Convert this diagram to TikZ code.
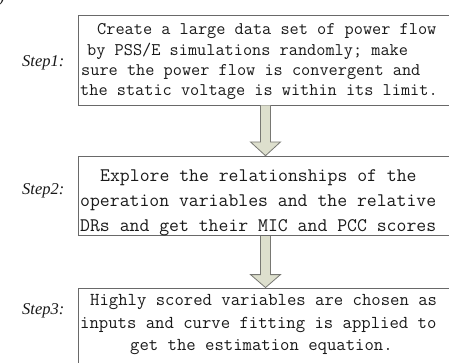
\documentclass[tikz,border=0pt]{standalone}
\usepackage{fontspec}
\usetikzlibrary{calc}
\newfontfamily\stepfont{Liberation Serif}
\definecolor{boxgray}{RGB}{105,105,105}
\definecolor{arrowfill}{RGB}{221,223,205}
\definecolor{arrowline}{RGB}{120,120,115}
\definecolor{txt}{RGB}{25,25,25}
\begin{document}
\begin{tikzpicture}[x=1pt,y=-1pt,
  stepbox/.style={draw=boxgray,line width=0.9pt,minimum width=375pt,inner sep=0pt},
  line1/.style={anchor=base west,inner sep=0pt,text=txt,font=\fontsize{17.8}{20}\ttfamily},
  line2/.style={anchor=base west,inner sep=0pt,text=txt,font=\fontsize{19.2}{22}\ttfamily},
  line3/.style={anchor=base west,inner sep=0pt,text=txt,font=\fontsize{18.2}{21}\ttfamily},
  steplabel/.style={anchor=base west,inner sep=0pt,text=txt,font=\fontsize{16.5}{18}\stepfont\itshape},
  bigarrow/.style={draw=arrowline,fill=arrowfill,line width=0.8pt,line join=miter}]
\useasboundingbox (0,0) rectangle (449,363);
% boxes
\node[stepbox,minimum height=90pt] (b1) at (265.5,60) {};
\node[stepbox,minimum height=79.5pt] (b2) at (265.5,195.9) {};
\node[stepbox,minimum height=100pt] (b3) at (265.5,338) {};
% arrows
\draw[bigarrow] ($(b1.south)+(-5,0)$) -- ($(b1.south)+(-5,36.5)$) -- ($(b1.south)+(-15,36.5)$)
  -- (b2.north) -- ($(b1.south)+(15,36.5)$) -- ($(b1.south)+(5,36.5)$) -- ($(b1.south)+(5,0)$);
\draw[bigarrow] ($(b2.south)+(-5,0)$) -- ($(b2.south)+(-5,38.5)$) -- ($(b2.south)+(-15,38.5)$)
  -- (b3.north) -- ($(b2.south)+(15,38.5)$) -- ($(b2.south)+(5,38.5)$) -- ($(b2.south)+(5,0)$);
% fragment at top left
\node[steplabel] (frag) at (-1,3) {)};
% step labels
\node[steplabel] (s1) at (22,67) {Step1:};
\node[steplabel] (s2) at (22,195) {Step2:};
\node[steplabel] (s3) at (22,314) {Step3:};
% box 1 text
\node[line1] (t11) at (97,35) {Create a large data set of power flow};
\node[line1] (t12) at (87,55.3) {by PSS/E simulations randomly; make};
\node[line1] (t13) at (81,75.6) {sure the power flow is convergent and};
\node[line1] (t14) at (80,96) {the static voltage is within its limit.};
% box 2 text
\node[line2] (t21) at (100,182) {Explore the relationships of the};
\node[line2] (t22) at (80,206.5) {operation variables and the relative};
\node[line2] (t23) at (80,231) {DRs and get their MIC and PCC scores};
% box 3 text
\node[line3] (t31) at (90,305) {Highly scored variables are chosen as};
\node[line3] (t32) at (80,328) {inputs and curve fitting is applied to};
\node[line3] (t33) at (130,350) {get the estimation equation.};
\end{tikzpicture}
\end{document}
